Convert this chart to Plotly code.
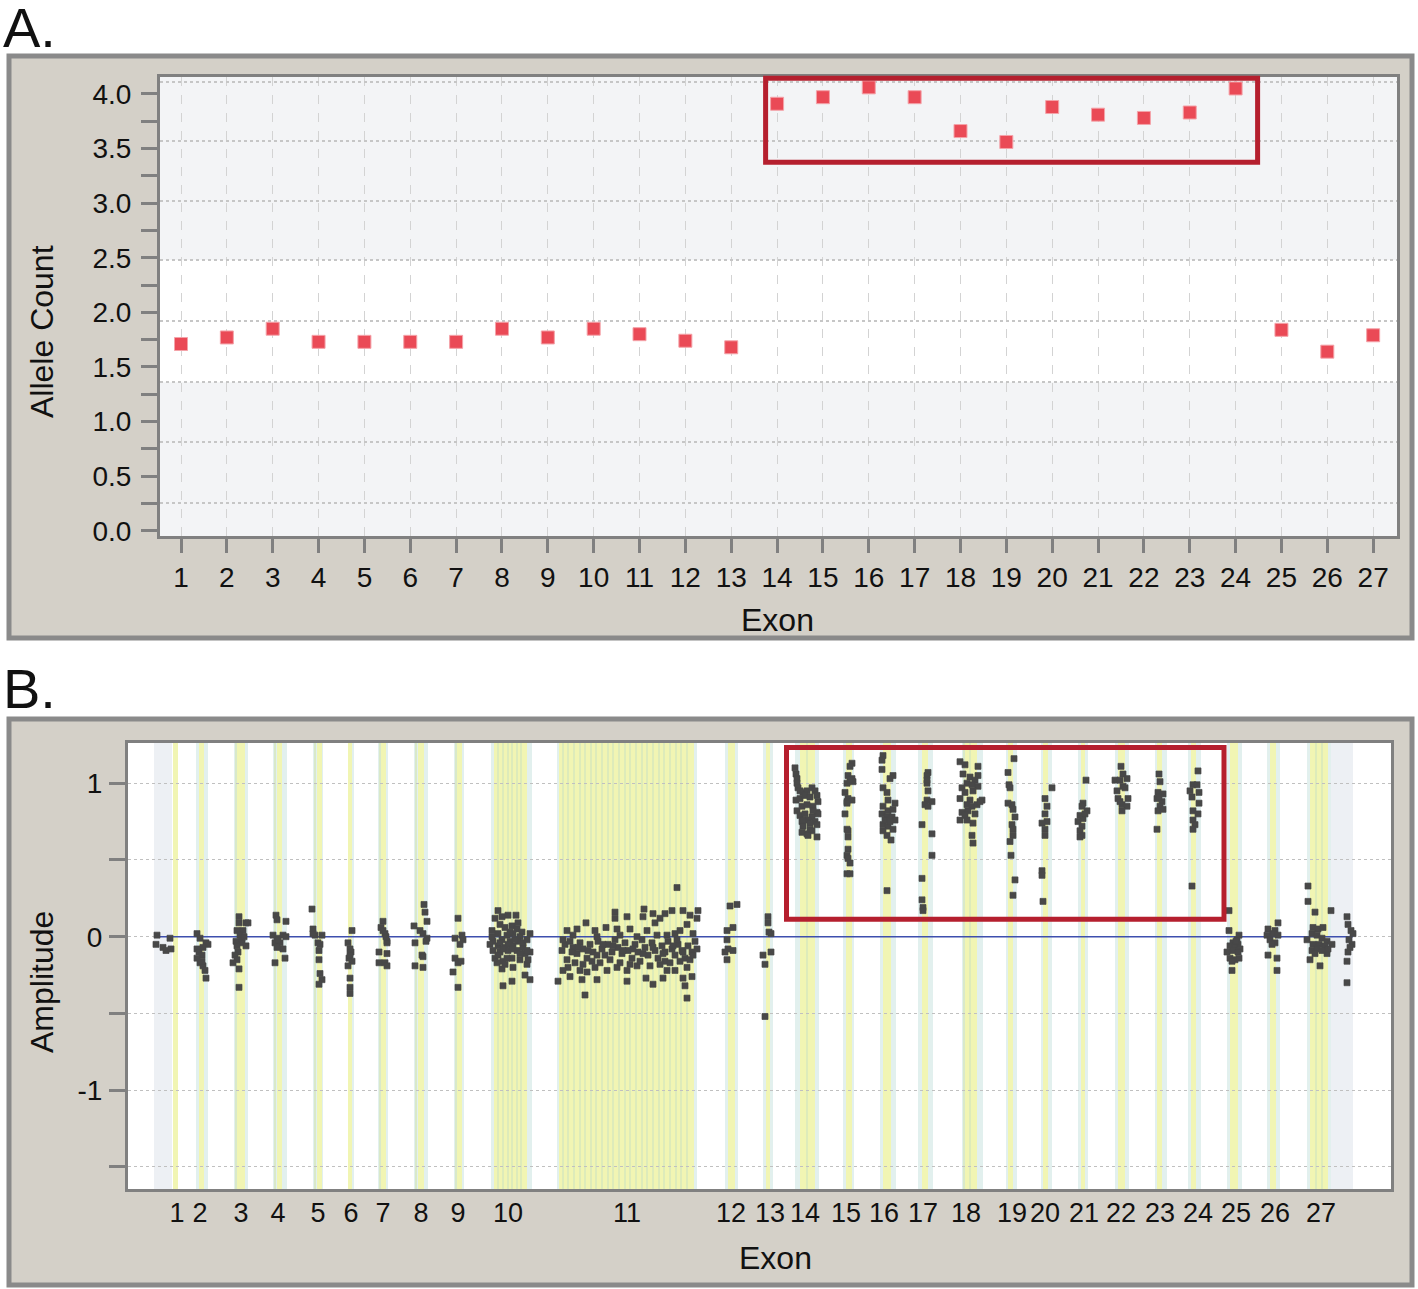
import plotly.graph_objects as go

# ======================= DATA =======================
# ---- Panel A: allele count per exon ----
exon_numbers = list(range(1, 28))
allele_count = [1.71, 1.77, 1.85, 1.73, 1.73, 1.73, 1.73, 1.85, 1.77, 1.85, 1.80, 1.74, 1.68,
                3.91, 3.97, 4.06, 3.97, 3.66, 3.56, 3.88, 3.81, 3.78, 3.83, 4.05,
                1.84, 1.64, 1.79]
a_ytick_vals = [0.0, 0.5, 1.0, 1.5, 2.0, 2.5, 3.0, 3.5, 4.0]
a_grid_vals = [0.25, 0.81, 1.36, 1.92, 2.48, 3.02, 3.57, 4.11]
a_normal_band = [1.36, 2.48]
a_highlight_exons = [13.75, 24.48]
a_highlight_counts = [3.375, 4.143]

# ---- Panel B: probe amplitudes along the gene (position units) ----
b_exon_labels = [str(i) for i in range(1, 28)]
b_exon_label_pos = [177, 200, 241, 278, 318, 351, 383, 421, 458, 508, 627, 731, 770,
                    805, 846, 884, 923, 966, 1012, 1045, 1084, 1121, 1160, 1198, 1236, 1275, 1321]
b_ytick_vals = [-1, 0, 1]
b_ytick_text = ["-1", "0", "1"]
b_highlight_pos = [786.5, 1224]
b_highlight_amp = [0.114, 1.233]

# probe stripes
flank_x0 = [154, 1331]
flank_x1 = [172, 1353]
probe_x0 = [196, 234, 273, 313, 348, 378, 414, 454, 491, 557, 725, 763, 795, 843, 880, 918,
            962, 1006, 1041, 1078, 1115, 1155, 1188, 1227, 1267, 1307]
probe_x1 = [208, 248, 287, 323, 354, 388, 428, 464, 532, 697, 738, 773, 819, 854, 896, 933,
            983, 1017, 1052, 1088, 1129, 1167, 1201, 1242, 1280, 1331]
core_x0 = [173, 199, 237, 277, 317, 348, 381, 418, 457, 494, 559, 728, 766, 800, 846, 883,
           922, 965, 1008, 1043, 1081, 1118, 1157, 1191, 1230, 1270, 1310]
core_x1 = [178, 204, 245, 282, 322, 352, 386, 424, 462, 527, 694, 735, 770, 815, 852, 891,
           928, 977, 1013, 1048, 1085, 1125, 1162, 1196, 1238, 1276, 1328]
probe_lines = [236, 275, 315, 380, 416, 456, 498, 503, 508, 512, 517, 521,
               563, 568, 574, 580, 585, 591, 596, 602, 608, 613, 619, 625, 630, 636,
               642, 647, 653, 659, 664, 670, 676, 681, 687, 807, 964, 970, 1316, 1322]

e01_x = [157, 156, 163, 166, 170, 171]
e01_y = [0.01, -0.05, -0.07, -0.09, -0.01, -0.08]
e02_x = [197, 200, 206, 208, 197, 199, 202, 197, 200, 203, 205, 206, 203, 202]
e02_y = [0.02, -0.01, -0.04, -0.05, -0.08, -0.10, -0.12, -0.14, -0.17, -0.19, -0.22, -0.27, -0.07, -0.16]
e03_x = [239, 239, 246, 248, 237, 243, 240, 236, 242, 237, 246, 238, 235, 237, 233, 239, 239, 242, 244]
e03_y = [0.13, 0.09, 0.09, 0.09, 0.04, 0.04, 0.01, -0.03, -0.04, -0.06, -0.06, -0.10, -0.12, -0.15,
         -0.17, -0.21, -0.33, -0.01, 0.00]
e04_x = [276, 277, 286, 273, 277, 283, 286, 275, 280, 277, 283, 285, 275, 278]
e04_y = [0.14, 0.11, 0.10, 0.01, -0.01, 0.01, 0.00, -0.04, -0.04, -0.07, -0.08, -0.14, -0.17, -0.02]
e05_x = [312, 313, 315, 322, 318, 320, 319, 319, 320, 322, 319, 313]
e05_y = [0.18, 0.05, 0.01, 0.01, -0.04, -0.05, -0.09, -0.15, -0.24, -0.28, -0.31, 0.02]
e06_x = [352, 348, 350, 351, 349, 352, 348, 350, 350, 350, 350]
e06_y = [0.04, -0.04, -0.08, -0.10, -0.14, -0.16, -0.19, -0.27, -0.33, -0.37, -0.12]
e07_x = [383, 381, 383, 385, 387, 387, 379, 387, 379, 385, 387, 386]
e07_y = [0.10, 0.06, 0.04, 0.02, -0.03, -0.04, -0.10, -0.11, -0.17, -0.17, -0.19, 0.00]
e08_x = [424, 425, 427, 414, 420, 423, 427, 426, 415, 422, 423, 415, 423]
e08_y = [0.21, 0.16, 0.10, 0.07, 0.04, 0.02, -0.01, -0.03, -0.04, -0.12, -0.13, -0.19, -0.20]
e09_x = [458, 455, 462, 463, 460, 455, 458, 461, 453, 458]
e09_y = [0.12, -0.01, 0.01, -0.02, -0.05, -0.14, -0.17, -0.16, -0.23, -0.33]
e10_x = [498, 508, 516, 495, 500, 505, 512, 517, 492, 498, 507, 513, 522, 530, 493, 502, 510, 520,
         490, 498, 505, 513, 523, 530, 493, 500, 508, 517, 525, 497, 503, 512, 520, 527, 502, 513,
         525, 530, 512, 503, 507, 518, 495, 523,
         500, 508, 515, 527, 492, 503, 512, 520, 498, 528, 510, 518, 502, 527, 505]
e10_y = [0.17, 0.14, 0.14, 0.12, 0.08, 0.06, 0.07, 0.05, 0.04, 0.02, 0.01, 0.02, 0.03, 0.02, -0.03,
         -0.02, -0.03, 0.00, -0.05, -0.06, -0.07, -0.06, -0.07, -0.10, -0.09, -0.10, -0.09, -0.09,
         -0.11, -0.17, -0.16, -0.14, -0.15, -0.18, -0.21, -0.20, -0.25, -0.28, -0.29, -0.32, -0.14,
         -0.03, -0.14, -0.04,
         -0.04, -0.05, -0.02, -0.02, 0.00, -0.08, -0.08, -0.11, -0.12, -0.15, 0.03, 0.09, 0.13, -0.09, -0.18]
e11_x = [567, 577, 586, 595, 606, 615, 615, 617, 627, 630, 644, 643, 653, 665, 672, 675, 683, 690,
         698, 697, 677, 647, 655, 660, 687, 667, 680,
         558, 570, 568, 563, 582, 585, 597, 580, 587, 595, 607, 617, 627, 627, 637, 646, 653, 663,
         667, 675, 683, 685, 687, 692, 665, 687,
         562, 565, 570, 573, 577, 580, 583, 587, 590, 593, 598, 602, 605, 608, 612, 615, 618, 622,
         625, 628, 632, 635, 638, 642, 645, 648, 652, 655, 658, 662, 665, 668, 672, 675, 678, 682,
         685, 688, 692, 695, 697,
         567, 575, 583, 592, 600, 610, 620, 630, 640, 650, 660, 670, 680, 690,
         573, 597, 620, 637, 657, 677, 693,
         563, 572, 578, 588, 597, 603, 613, 623, 633, 643, 653, 663, 673, 683, 693]
e11_y = [0.04, 0.05, 0.09, 0.04, 0.06, 0.16, 0.12, 0.05, 0.13, 0.05, 0.18, 0.13, 0.15, 0.15, 0.17,
         0.02, 0.17, 0.14, 0.17, 0.12, 0.32, 0.04, 0.09, 0.12, 0.08, 0.01, 0.04,
         -0.29, -0.26, -0.20, -0.22, -0.28, -0.38, -0.28, -0.22, -0.23, -0.20, -0.22, -0.20, -0.22,
         -0.29, -0.19, -0.27, -0.31, -0.27, -0.22, -0.22, -0.27, -0.32, -0.40, -0.26, -0.16, -0.20,
         -0.09, -0.05, -0.03, -0.07, -0.11, -0.04, -0.08, -0.14, -0.05, -0.10, -0.03, -0.08, -0.12,
         -0.05, -0.10, -0.02, -0.07, -0.11, -0.04, -0.09, -0.14, -0.05, -0.10, -0.02, -0.07, -0.12,
         -0.04, -0.09, -0.14, -0.06, -0.10, -0.03, -0.08, -0.12, -0.05, -0.09, -0.14, -0.06, -0.10,
         -0.03, -0.08,
         -0.15, -0.17, -0.18, -0.16, -0.17, -0.15, -0.17, -0.18, -0.16, -0.19, -0.18, -0.17, -0.16, -0.15,
         0.01, 0.00, 0.01, 0.00, 0.01, -0.02, 0.02,
         -0.02, -0.10, -0.07, -0.09, -0.12, -0.05, -0.06, -0.09, -0.08, -0.11, -0.07, -0.11, -0.06,
         -0.10, -0.12]
e12_x = [730, 737, 727, 733, 727, 728, 733, 725, 727]
e12_y = [0.20, 0.21, 0.04, 0.06, -0.02, -0.08, -0.09, -0.10, -0.15]
e13_x = [768, 768, 769, 771, 763, 771, 765, 765]
e13_y = [0.13, 0.09, 0.03, 0.02, -0.12, -0.10, -0.18, -0.52]
e14_x = [795, 796, 797, 797, 798, 800, 803, 807, 812, 815, 796, 800, 805, 810, 817, 818, 797, 802,
         807, 813, 817, 800, 805, 812, 818, 802, 808, 815, 803, 810, 817, 802, 807, 812, 808, 817,
         813, 803, 810]
e14_y = [1.10, 1.06, 1.03, 1.00, 0.97, 0.95, 0.94, 0.95, 0.97, 0.95, 0.89, 0.90, 0.92, 0.91, 0.92,
         0.88, 0.82, 0.85, 0.86, 0.85, 0.81, 0.79, 0.80, 0.78, 0.80, 0.75, 0.76, 0.75, 0.72, 0.70,
         0.73, 0.68, 0.67, 0.69, 0.66, 0.65, 0.82, 0.76, 0.74]
e15_x = [852, 850, 848, 852, 853, 847, 845, 848, 852, 847, 845, 847, 848, 848, 848, 847, 848, 850,
         847, 850, 847, 850]
e15_y = [1.13, 1.11, 1.05, 1.03, 1.01, 1.00, 0.94, 0.90, 0.89, 0.88, 0.80, 0.70, 0.69, 0.65, 0.57,
         0.53, 0.51, 0.48, 0.41, 0.41, 0.87, 1.02]
e16_x = [883, 882, 882, 893, 890, 883, 887, 888, 895, 883, 888, 893, 882, 887, 892, 895, 883, 888,
         893, 883, 887, 891, 887, 885, 890]
e16_y = [1.18, 1.15, 1.09, 1.05, 1.03, 0.97, 0.94, 0.89, 0.87, 0.85, 0.82, 0.83, 0.80, 0.78, 0.78,
         0.76, 0.73, 0.72, 0.70, 0.69, 0.66, 0.63, 0.30, 0.76, 0.75]
e17_x = [928, 927, 927, 928, 927, 932, 925, 928, 922, 932, 932, 922, 922, 923, 923, 927]
e17_y = [1.07, 1.05, 1.00, 0.95, 0.89, 0.88, 0.86, 0.85, 0.73, 0.67, 0.53, 0.38, 0.24, 0.19, 0.17, 1.02]
e18_x = [960, 965, 978, 963, 970, 978, 975, 967, 972, 962, 978, 965, 973, 960, 970, 982, 967, 972,
         977, 962, 968, 975, 960, 967, 973, 972, 973, 980, 965]
e18_y = [1.14, 1.12, 1.11, 1.06, 1.04, 1.05, 1.02, 1.00, 0.99, 0.97, 0.98, 0.94, 0.95, 0.90, 0.89,
         0.89, 0.86, 0.85, 0.86, 0.81, 0.82, 0.80, 0.76, 0.76, 0.74, 0.66, 0.61, 0.88, 0.79]
e19_x = [1014, 1008, 1009, 1010, 1012, 1013, 1015, 1012, 1013, 1013, 1010, 1011, 1015, 1013, 1008]
e19_y = [1.16, 1.07, 0.99, 0.97, 0.86, 0.83, 0.78, 0.73, 0.70, 0.66, 0.62, 0.53, 0.37, 0.27, 0.87]
e20_x = [1052, 1045, 1047, 1045, 1047, 1042, 1045, 1045, 1042, 1042, 1043]
e20_y = [0.97, 0.90, 0.85, 0.80, 0.75, 0.74, 0.70, 0.66, 0.43, 0.40, 0.23]
e21_x = [1086, 1083, 1082, 1087, 1080, 1083, 1085, 1078, 1082, 1080, 1082, 1080]
e21_y = [1.02, 0.87, 0.85, 0.82, 0.79, 0.77, 0.80, 0.75, 0.72, 0.69, 0.66, 0.65]
e22_x = [1121, 1123, 1115, 1120, 1127, 1123, 1117, 1125, 1118, 1128, 1122, 1127, 1122, 1120]
e22_y = [1.11, 1.06, 1.02, 1.02, 1.03, 0.98, 0.95, 0.97, 0.90, 0.90, 0.86, 0.85, 0.82, 0.88]
e23_x = [1159, 1160, 1158, 1163, 1157, 1162, 1160, 1158, 1163, 1157, 1159]
e23_y = [1.06, 1.01, 0.94, 0.93, 0.90, 0.88, 0.85, 0.82, 0.83, 0.70, 0.91]
e24_x = [1198, 1193, 1197, 1199, 1190, 1192, 1199, 1193, 1198, 1193, 1195, 1193, 1192]
e24_y = [1.08, 0.99, 0.99, 0.94, 0.95, 0.91, 0.87, 0.82, 0.80, 0.76, 0.73, 0.70, 0.33]
e25_x = [1229, 1229, 1239, 1237, 1233, 1238, 1230, 1235, 1240, 1227, 1233, 1238, 1230, 1235, 1232,
         1239, 1232, 1236]
e25_y = [0.17, 0.04, 0.01, -0.02, -0.04, -0.05, -0.06, -0.07, -0.08, -0.10, -0.09, -0.10, -0.14,
         -0.15, -0.16, -0.14, -0.22, -0.03]
e26_x = [1278, 1268, 1275, 1267, 1273, 1278, 1270, 1275, 1268, 1277, 1277, 1272]
e26_y = [0.09, 0.05, 0.04, 0.01, 0.02, 0.01, -0.02, -0.04, -0.12, -0.14, -0.22, -0.05]
e27_x = [1308, 1308, 1315, 1331, 1313, 1318, 1323, 1312, 1317, 1322, 1327, 1307, 1313, 1319, 1325,
         1332, 1312, 1317, 1327, 1310, 1320, 1315, 1322, 1328]
e27_y = [0.33, 0.23, 0.16, 0.17, 0.06, 0.05, 0.06, 0.02, 0.01, -0.01, -0.03, -0.02, -0.05, -0.05,
         -0.06, -0.05, -0.09, -0.08, -0.11, -0.15, -0.19, -0.11, -0.09, -0.08]
flank3_x = [1347, 1348, 1351, 1353, 1349, 1352, 1348, 1347, 1347, 1350]
flank3_y = [0.13, 0.08, 0.04, 0.02, -0.02, -0.05, -0.10, -0.16, -0.30, -0.07]

# ======================= STYLE =======================
W, H_REF = 1418, 1289      # reference picture size (layout coordinates below are in its pixels)
H_FIG = 1300               # figure height (compensates the slight vertical squeeze of the capture)
FONT = "Liberation Sans, Arial, Helvetica, sans-serif"
AXIS_GRAY = "#808080"
RED = "#b51f2e"


def fx(px):
    return px / W


def fy(py):
    return 1 - py / H_REF


def dom(v, rng):
    return (v - rng[0]) / (rng[1] - rng[0])


A_XRANGE = [0.542, 27.52]
A_YRANGE = [-0.048, 4.155]
B_XRANGE = [128, 1391]
B_YRANGE = [-1.644, 1.262]

all_b_x = (e01_x + e02_x + e03_x + e04_x + e05_x + e06_x + e07_x + e08_x + e09_x + e10_x + e11_x
           + e12_x + e13_x + e14_x + e15_x + e16_x + e17_x + e18_x + e19_x + e20_x + e21_x
           + e22_x + e23_x + e24_x + e25_x + e26_x + e27_x + flank3_x)
all_b_y = (e01_y + e02_y + e03_y + e04_y + e05_y + e06_y + e07_y + e08_y + e09_y + e10_y + e11_y
           + e12_y + e13_y + e14_y + e15_y + e16_y + e17_y + e18_y + e19_y + e20_y + e21_y
           + e22_y + e23_y + e24_y + e25_y + e26_y + e27_y + flank3_y)

fig = go.Figure()

# Panel A markers
fig.add_trace(go.Scatter(
    x=exon_numbers, y=allele_count, mode="markers", xaxis="x", yaxis="y",
    marker=dict(symbol="square", size=13, color="#ea4a56",
                line=dict(color="#f4a3a9", width=1)),
    hoverinfo="x+y", showlegend=False))
# helper trace for the overlay grid axis of panel A
fig.add_trace(go.Scatter(
    x=exon_numbers[:1], y=allele_count[:1], mode="markers", xaxis="x", yaxis="y3",
    marker=dict(opacity=0), hoverinfo="skip", showlegend=False))

# Panel B reference line at 0
fig.add_trace(go.Scatter(
    x=[min(all_b_x), max(all_b_x)], y=[0, 0], mode="lines", xaxis="x2", yaxis="y2",
    line=dict(color="#3e4fae", width=1.6), hoverinfo="skip", showlegend=False))
# Panel B probe amplitudes
fig.add_trace(go.Scatter(
    x=all_b_x, y=all_b_y, mode="markers", xaxis="x2", yaxis="y2",
    marker=dict(symbol="square", size=6, color="#484848",
                line=dict(color="#484848", width=0.7)),
    hoverinfo="y", showlegend=False))

shapes = []
# outer panels
for top, bot in [(56, 638), (719, 1285)]:
    shapes.append(dict(type="rect", xref="paper", yref="paper", x0=fx(9), x1=fx(1412),
                       y0=fy(bot), y1=fy(top), fillcolor="#d4d0c8",
                       line=dict(color="#8a8a8a", width=5), layer="below"))
# plot backgrounds
for xr, yr in [("x", "y"), ("x2", "y2")]:
    shapes.append(dict(type="rect", xref=xr + " domain", yref=yr + " domain", x0=0, x1=1,
                       y0=0, y1=1, fillcolor="white", line=dict(width=0), layer="below"))
# panel A shaded bands outside the normal range
shapes.append(dict(type="rect", xref="x domain", yref="y", x0=0, x1=1,
                   y0=a_normal_band[1], y1=A_YRANGE[1] + 1, fillcolor="#f3f4f6",
                   line=dict(width=0), layer="below"))
shapes.append(dict(type="rect", xref="x domain", yref="y", x0=0, x1=1,
                   y0=A_YRANGE[0] - 1, y1=a_normal_band[0], fillcolor="#f3f4f6",
                   line=dict(width=0), layer="below"))
# panel B probe stripes
for x0, x1 in zip(flank_x0, flank_x1):
    shapes.append(dict(type="rect", xref="x2", yref="y2 domain", x0=x0, x1=x1, y0=0, y1=1,
                       fillcolor="#edf0f4", line=dict(width=0), layer="below"))
for x0, x1 in zip(probe_x0, probe_x1):
    shapes.append(dict(type="rect", xref="x2", yref="y2 domain", x0=x0, x1=x1, y0=0, y1=1,
                       fillcolor="#e2f0ee", line=dict(width=0), layer="below"))
for x0, x1 in zip(core_x0, core_x1):
    shapes.append(dict(type="rect", xref="x2", yref="y2 domain", x0=x0, x1=x1, y0=0, y1=1,
                       fillcolor="#f1f5b3", line=dict(width=0), layer="below"))
for xl in probe_lines:
    shapes.append(dict(type="line", xref="x2", yref="y2 domain", x0=xl, x1=xl, y0=0, y1=1,
                       line=dict(color="#d6e7bd", width=1.5), layer="below"))
# highlight boxes
shapes.append(dict(type="rect", xref="x domain", yref="y domain",
                   x0=dom(a_highlight_exons[0], A_XRANGE), x1=dom(a_highlight_exons[1], A_XRANGE),
                   y0=dom(a_highlight_counts[0], A_YRANGE), y1=dom(a_highlight_counts[1], A_YRANGE),
                   line=dict(color=RED, width=5), layer="above"))
shapes.append(dict(type="rect", xref="x2 domain", yref="y2 domain",
                   x0=dom(b_highlight_pos[0], B_XRANGE), x1=dom(b_highlight_pos[1], B_XRANGE),
                   y0=dom(b_highlight_amp[0], B_YRANGE), y1=dom(b_highlight_amp[1], B_YRANGE),
                   line=dict(color=RED, width=5), layer="above"))

tickfont = dict(family=FONT, size=28, color="#111111")
common_line = dict(showline=True, linewidth=3, linecolor=AXIS_GRAY, mirror=True, zeroline=False)

fig.update_layout(
    width=W, height=H_FIG, margin=dict(l=0, r=0, t=0, b=0),
    paper_bgcolor="white", plot_bgcolor="rgba(0,0,0,0)",
    font=dict(family=FONT, color="#111111"),
    showlegend=False, shapes=shapes,
    xaxis=dict(domain=[fx(160), fx(1397)], anchor="y", range=A_XRANGE,
               tickmode="array", tickvals=exon_numbers, ticktext=[str(e) for e in exon_numbers],
               ticks="outside", ticklen=14, tickwidth=3, tickcolor=AXIS_GRAY,
               tickfont=tickfont, showgrid=True, griddash="dash", gridcolor="#d3d3d3",
               gridwidth=1, **common_line),
    yaxis=dict(domain=[fy(536), fy(77)], anchor="x", range=A_YRANGE,
               tickmode="array", tickvals=a_ytick_vals, ticktext=[f"{v:.1f}" for v in a_ytick_vals],
               ticks="outside", ticklen=16, tickwidth=3, tickcolor=AXIS_GRAY,
               minor=dict(tickmode="linear", tick0=0, dtick=0.25, ticks="outside", ticklen=16,
                          tickwidth=3, tickcolor=AXIS_GRAY, showgrid=False),
               tickfont=tickfont, showgrid=False, ticklabelstandoff=4, **common_line),
    yaxis3=dict(overlaying="y", anchor="x", range=A_YRANGE, tickmode="array",
                tickvals=a_grid_vals, showticklabels=False, ticks="", showline=False,
                zeroline=False, showgrid=True, griddash="dot", gridcolor="#c6c6c6", gridwidth=1.5),
    xaxis2=dict(domain=[fx(128), fx(1391)], anchor="y2", range=B_XRANGE,
                tickmode="array", tickvals=b_exon_label_pos, ticktext=b_exon_labels,
                ticks="", tickfont=dict(family=FONT, size=27, color="#111111"),
                showgrid=False, ticklabelstandoff=-2, **common_line),
    yaxis2=dict(domain=[fy(1189), fy(743)], anchor="x2", range=B_YRANGE,
                tickmode="array", tickvals=b_ytick_vals, ticktext=b_ytick_text,
                ticks="outside", ticklen=16, tickwidth=3, tickcolor=AXIS_GRAY,
                minor=dict(tickmode="linear", tick0=0, dtick=0.5, ticks="outside", ticklen=16,
                           tickwidth=3, tickcolor=AXIS_GRAY, showgrid=True, griddash="dot",
                           gridcolor="#c0c0c0", gridwidth=1.2),
                tickfont=tickfont, showgrid=True, griddash="dot", gridcolor="#c0c0c0",
                gridwidth=1.2, ticklabelstandoff=1, **common_line),
)

annots = [
    dict(text="A.", x=fx(1), y=fy(27), xanchor="left", yanchor="middle", size=56),
    dict(text="B.", x=fx(1), y=fy(688), xanchor="left", yanchor="middle", size=56),
    dict(text="Allele Count", x=fx(42), y=fy(332), xanchor="center", yanchor="middle",
         size=32, angle=-90),
    dict(text="Exon", x=fx(777), y=fy(620), xanchor="center", yanchor="middle", size=32),
    dict(text="Amplitude", x=fx(42), y=fy(982), xanchor="center", yanchor="middle",
         size=32, angle=-90),
    dict(text="Exon", x=fx(775), y=fy(1258), xanchor="center", yanchor="middle", size=32),
]
for a in annots:
    fig.add_annotation(text=a["text"], x=a["x"], y=a["y"], xref="paper", yref="paper",
                       xanchor=a["xanchor"], yanchor=a["yanchor"], showarrow=False,
                       textangle=a.get("angle", 0),
                       font=dict(family=FONT, size=a["size"], color="#111111"))

page_fix = ("var s=document.documentElement.style;s.margin='0';s.padding='0';s.overflow='hidden';"
            "var b=document.body.style;b.margin='0';b.padding='0';b.overflow='hidden';")
fig.write_html("out.html", config={"displayModeBar": False}, post_script=page_fix)
